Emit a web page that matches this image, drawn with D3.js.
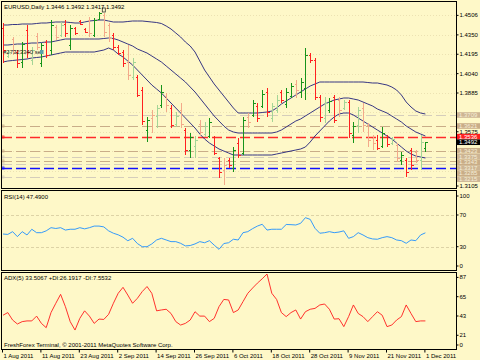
<!DOCTYPE html>
<html>
<head>
<meta charset="utf-8">
<script src="https://cdn.jsdelivr.net/npm/d3@7"></script>
<style>
  body { margin: 0; background: #fef8c8; }
  svg { display: block; }
  text { font-family: "Liberation Sans", Arial, sans-serif; font-size: 6px; }
</style>
</head>
<body>
<div id="chart"></div>
<script>
// ---- data ----
const title = "EURUSD,Daily  1.3446 1.3492 1.3417 1.3492";
const orderLabel = "#27323340 sell";
const rsiTitle = "RSI(14) 47.4900";
const adxTitle = "ADX(5) 33.5067 +DI:26.1917 -DI:7.5532";
const footer = "FreshForex Terminal, \u00a9 2001-2011 MetaQuotes Software Corp.";

const dateLabels = ["1 Aug 2011", "11 Aug 2011", "23 Aug 2011", "2 Sep 2011", "14 Sep 2011", "26 Sep 2011",
  "6 Oct 2011", "18 Oct 2011", "28 Oct 2011", "9 Nov 2011", "21 Nov 2011", "1 Dec 2011"];
const dateLabelBars = [0, 8, 16, 24, 32, 40, 48, 56, 64, 72, 80, 88];

const open = [1.4405, 1.4181, 1.4317, 1.4213, 1.4133, 1.4389, 1.4149, 1.4341, 1.4125, 1.4293,
  1.4229, 1.4413, 1.4349, 1.4437, 1.4269, 1.4405, 1.4461, 1.4397, 1.4469, 1.4349,
  1.4477, 1.4509, 1.4429, 1.4349, 1.4253, 1.4213, 1.4133, 1.4013, 1.4013, 1.3909,
  1.3589, 1.3685, 1.3701, 1.3789, 1.3861, 1.3765, 1.3637, 1.3749, 1.3589, 1.3429,
  1.3461, 1.3637, 1.3557, 1.3541, 1.3533, 1.3365, 1.3269, 1.3349, 1.3285, 1.3485,
  1.3405, 1.3693, 1.3709, 1.3781, 1.3781, 1.3893, 1.3685, 1.3749, 1.3893, 1.3797,
  1.3861, 1.3957, 1.3893, 1.3925, 1.4189, 1.4149, 1.3853, 1.3685, 1.3749, 1.3853,
  1.3829, 1.3765, 1.3813, 1.3549, 1.3629, 1.3765, 1.3629, 1.3525, 1.3509, 1.3461,
  1.3533, 1.3485, 1.3469, 1.3349, 1.3349, 1.3429, 1.3413, 1.3349, 1.3446];
const high = [1.4445, 1.4229, 1.4333, 1.4229, 1.4293, 1.4429, 1.4253, 1.4365, 1.4285, 1.4309,
  1.4469, 1.4429, 1.4453, 1.4469, 1.4429, 1.4413, 1.4469, 1.4405, 1.4493, 1.4485,
  1.4533, 1.4525, 1.4445, 1.4365, 1.4269, 1.4229, 1.4269, 1.4165, 1.4029, 1.3933,
  1.3693, 1.3749, 1.3789, 1.3949, 1.3885, 1.3789, 1.3733, 1.3805, 1.3605, 1.3565,
  1.3541, 1.3669, 1.3653, 1.3685, 1.3541, 1.3373, 1.3365, 1.3365, 1.3453, 1.3525,
  1.3693, 1.3725, 1.3829, 1.3805, 1.3909, 1.3925, 1.3805, 1.3869, 1.3909, 1.3925,
  1.3965, 1.3989, 1.4005, 1.4245, 1.4205, 1.4165, 1.3869, 1.3853, 1.3845, 1.3869,
  1.3853, 1.3829, 1.3829, 1.3653, 1.3773, 1.3805, 1.3645, 1.3549, 1.3549, 1.3613,
  1.3549, 1.3533, 1.3485, 1.3413, 1.3365, 1.3445, 1.3429, 1.3549, 1.3492];
const low = [1.4125, 1.4165, 1.4189, 1.4085, 1.4085, 1.4165, 1.4109, 1.4229, 1.4093, 1.4165,
  1.4189, 1.4309, 1.4333, 1.4333, 1.4229, 1.4349, 1.4429, 1.4365, 1.4333, 1.4333,
  1.4469, 1.4333, 1.4293, 1.4229, 1.4189, 1.4093, 1.3989, 1.3989, 1.3853, 1.3629,
  1.3493, 1.3565, 1.3605, 1.3765, 1.3733, 1.3605, 1.3613, 1.3605, 1.3389, 1.3365,
  1.3365, 1.3549, 1.3533, 1.3525, 1.3389, 1.3205, 1.3149, 1.3285, 1.3253, 1.3365,
  1.3389, 1.3605, 1.3693, 1.3653, 1.3765, 1.3693, 1.3653, 1.3725, 1.3805, 1.3765,
  1.3845, 1.3845, 1.3845, 1.3829, 1.4125, 1.3829, 1.3653, 1.3645, 1.3725, 1.3645,
  1.3693, 1.3749, 1.3525, 1.3485, 1.3565, 1.3573, 1.3453, 1.3429, 1.3429, 1.3445,
  1.3453, 1.3469, 1.3333, 1.3309, 1.3213, 1.3269, 1.3325, 1.3269, 1.3417];
const close = [1.4229, 1.4213, 1.4229, 1.4125, 1.4277, 1.4213, 1.4229, 1.4253, 1.4269, 1.4189,
  1.4429, 1.4333, 1.4429, 1.4365, 1.4405, 1.4365, 1.4437, 1.4373, 1.4365, 1.4469,
  1.4525, 1.4373, 1.4325, 1.4253, 1.4205, 1.4125, 1.4029, 1.4133, 1.3869, 1.3661,
  1.3669, 1.3709, 1.3765, 1.3893, 1.3789, 1.3629, 1.3701, 1.3637, 1.3429, 1.3533,
  1.3509, 1.3573, 1.3621, 1.3653, 1.3405, 1.3253, 1.3309, 1.3309, 1.3429, 1.3389,
  1.3669, 1.3653, 1.3805, 1.3685, 1.3877, 1.3733, 1.3781, 1.3829, 1.3829, 1.3893,
  1.3941, 1.3909, 1.3973, 1.4189, 1.4149, 1.3853, 1.3693, 1.3805, 1.3821, 1.3669,
  1.3749, 1.3813, 1.3565, 1.3621, 1.3749, 1.3629, 1.3509, 1.3485, 1.3445, 1.3565,
  1.3477, 1.3517, 1.3365, 1.3389, 1.3253, 1.3309, 1.3349, 1.3493, 1.3492];
// G = up, R = down, g = soft up, r = soft down
const barKind = ("RgrRGRgrGR" + "GrgRGRRRrG" + "GrrRRRrgRR" + "GrgGrRgrRG" + "grgGRRrRGR" +
  "GrGRGRggRG" + "GrGGRRRgGR" + "rgRGgrrrRG" + "RgrGRRrgG").split("");

const bandUpper = [1.4429, 1.4429, 1.4433, 1.4433, 1.4437, 1.4437, 1.4437, 1.4441, 1.4445, 1.4445,
  1.4449, 1.4453, 1.4453, 1.4453, 1.4449, 1.4445, 1.4445, 1.4453, 1.4461, 1.4465,
  1.4469, 1.4469, 1.4461, 1.4453, 1.4453, 1.4453, 1.4457, 1.4461, 1.4461, 1.4461,
  1.4457, 1.4453, 1.4449, 1.4441, 1.4421, 1.4397, 1.4365, 1.4333, 1.4293, 1.4261,
  1.4213, 1.4141, 1.4069, 1.4013, 1.3957, 1.3909, 1.3861, 1.3813, 1.3765, 1.3725,
  1.3725, 1.3725, 1.3725, 1.3725, 1.3729, 1.3733, 1.3741, 1.3765, 1.3797, 1.3821,
  1.3845, 1.3869, 1.3893, 1.3917, 1.3941, 1.3957, 1.3973, 1.3973, 1.3973, 1.3973,
  1.3973, 1.3973, 1.3973, 1.3973, 1.3973, 1.3973, 1.3969, 1.3965, 1.3965, 1.3957,
  1.3949, 1.3933, 1.3909, 1.3869, 1.3813, 1.3773, 1.3741, 1.3725, 1.3717];
const bandMiddle = [1.4269, 1.4269, 1.4273, 1.4277, 1.4277, 1.4281, 1.4285, 1.4285, 1.4289, 1.4293,
  1.4293, 1.4301, 1.4309, 1.4317, 1.4317, 1.4317, 1.4317, 1.4317, 1.4317, 1.4317,
  1.4317, 1.4321, 1.4325, 1.4321, 1.4309, 1.4293, 1.4277, 1.4261, 1.4237, 1.4221,
  1.4205, 1.4181, 1.4157, 1.4133, 1.4101, 1.4069, 1.4037, 1.4005, 1.3973, 1.3933,
  1.3893, 1.3845, 1.3797, 1.3749, 1.3701, 1.3661, 1.3621, 1.3589, 1.3573, 1.3565,
  1.3565, 1.3565, 1.3565, 1.3565, 1.3565, 1.3565, 1.3565, 1.3573, 1.3589, 1.3613,
  1.3637, 1.3661, 1.3677, 1.3701, 1.3725, 1.3749, 1.3773, 1.3797, 1.3813, 1.3829,
  1.3837, 1.3845, 1.3845, 1.3837, 1.3829, 1.3813, 1.3797, 1.3781, 1.3757, 1.3741,
  1.3725, 1.3701, 1.3677, 1.3653, 1.3621, 1.3597, 1.3573, 1.3557, 1.3541];
const bandLower = [1.4133, 1.4141, 1.4145, 1.4149, 1.4153, 1.4157, 1.4165, 1.4169, 1.4173, 1.4181,
  1.4189, 1.4197, 1.4205, 1.4213, 1.4213, 1.4213, 1.4213, 1.4213, 1.4213, 1.4213,
  1.4221, 1.4229, 1.4245, 1.4229, 1.4197, 1.4173, 1.4141, 1.4109, 1.4069, 1.4029,
  1.3989, 1.3949, 1.3917, 1.3885, 1.3845, 1.3805, 1.3765, 1.3725, 1.3685, 1.3645,
  1.3605, 1.3557, 1.3517, 1.3485, 1.3461, 1.3437, 1.3421, 1.3405, 1.3389, 1.3389,
  1.3389, 1.3389, 1.3389, 1.3389, 1.3389, 1.3389, 1.3389, 1.3397, 1.3405, 1.3413,
  1.3421, 1.3429, 1.3437, 1.3453, 1.3493, 1.3541, 1.3581, 1.3621, 1.3661, 1.3693,
  1.3717, 1.3725, 1.3725, 1.3709, 1.3685, 1.3661, 1.3637, 1.3613, 1.3589, 1.3565,
  1.3541, 1.3517, 1.3485, 1.3453, 1.3421, 1.3397, 1.3381, 1.3373, 1.3365];

const rsi = [46, 45.5, 49, 42.7, 49, 44.8, 52, 47.7, 47.7, 50,
  54, 53, 54, 51, 52, 52, 54, 52.5, 54, 56,
  56, 55, 50, 47, 45, 42, 37.5, 40.6, 34, 30,
  30, 33.5, 38.5, 40.6, 38.5, 36.4, 36.4, 34.3, 31, 31.5,
  33.5, 36.4, 35, 37.6, 32, 26.7, 34, 35, 39.4, 38.5,
  47.7, 49, 52.8, 56, 58.3, 51, 52, 52, 52, 58,
  57.8, 57.4, 59.5, 66.6, 64.5, 53.2, 47, 47.7, 49, 47.7,
  48.5, 50, 40.6, 42.7, 47.7, 44.8, 41.4, 39.8, 39.4, 41.4,
  42.7, 41.4, 38.5, 37.6, 34.3, 38.5, 37.6, 44.8, 47.49];
const adx = [40, 43, 34.5, 30, 32.7, 33.5, 33.5, 39, 30.7, 25.8,
  43, 53.6, 63.8, 49.8, 32.7, 23.1, 36.4, 45, 39, 30.7,
  35.6, 35.2, 41, 53.6, 65, 71.8, 63, 53.6, 59.3, 66.9,
  72.7, 65, 45, 46, 46.8, 42, 32.7, 28.8, 30.7, 34.5,
  44, 39, 39, 32.7, 36.4, 49.8, 58, 57.4, 43, 46,
  55.5, 65, 71, 76.6, 81.5, 87, 65, 58, 43, 38.4,
  43, 46, 35.6, 44, 46.8, 47.8, 51.7, 52.8, 46.8, 35.6,
  36, 27, 38.4, 51.7, 42, 38.4, 32.7, 38.4, 44, 40,
  27, 28.8, 34.5, 38.4, 51.7, 42, 32.7, 33.5, 33.51];

const priceTicks = [1.4506, 1.4350, 1.4195, 1.4040, 1.3885, 1.3730, 1.3575, 1.3420, 1.3265, 1.3105];
const rsiTicks = [100, 70, 30, 0];
const rsiLevels = [70, 30];
const adxTicks = [87, 65, 43, 21, 0];

// horizontal lines drawn on the chart
const levelPrices = [1.3709, 1.3621, 1.3536, 1.3423, 1.3375, 1.3343, 1.3317, 1.3285, 1.3215];
const levelKinds = ["pale", "tan", "red", "tan", "pale", "tan", "pale", "blue", "pale"];
const lastPrice = 1.3492;

// ---- layout ----
const width = 480, height = 360;
const left = 1, right = 456;
const mainTop = 1, mainBottom = 188;
const rsiTop = 190, rsiBottom = 270;
const adxTop = 272, adxBottom = 349;

const x = d3.scaleLinear().domain([0, 88]).range([3, 425.4]);
const y = d3.scaleLinear().domain([1.3117, 1.4629]).range([189, 0]);
const yRsi = d3.scaleLinear().domain([0, 100]).range([270.5, 191.2]);
const yAdx = d3.scaleLinear().domain([0, 87]).range([350.3, 274]);

const barColor = d3.scaleOrdinal().domain(["G", "R", "g", "r"])
  .range(["#16941a", "#ff2020", "#a4d596", "#f3a98a"]);
const levelColor = d3.scaleOrdinal().domain(["pale", "tan", "red", "blue"])
  .range(["#d5cdbb", "#c9ad88", "#ff2a2a", "#1010ff"]);
const boxColor = d3.scaleOrdinal().domain(["pale", "tan", "red", "blue", "last"])
  .range(["#cdb594", "#c9ad88", "#ff2020", "#c9ad88", "#000"]);

const px = v => Math.round(v) + 0.5;
const fmt = d3.format(".4f");

const svg = d3.select("#chart").append("svg")
  .attr("width", width)
  .attr("height", height)
  .attr("viewBox", [0, 0, width, height]);

svg.append("rect").attr("width", width).attr("height", height).attr("fill", "#fef8c8");

// clip regions for the three windows
const defs = svg.append("defs");
[["clipMain", mainTop, mainBottom], ["clipRsi", rsiTop, rsiBottom], ["clipAdx", adxTop, adxBottom]]
  .forEach(([id, t, b]) => {
    defs.append("clipPath").attr("id", id)
      .append("rect").attr("x", left).attr("y", t).attr("width", right - left).attr("height", b - t);
  });

// faint price grid
const main = svg.append("g").attr("clip-path", "url(#clipMain)");
main.selectAll(".grid")
  .data(priceTicks)
  .join("line")
  .attr("x1", left).attr("x2", right)
  .attr("y1", d => px(y(d))).attr("y2", d => px(y(d)))
  .attr("stroke", "#ece2b2")
  .attr("stroke-dasharray", "1,2");

// horizontal level lines
main.selectAll(".level")
  .data(levelPrices)
  .join("line")
  .attr("x1", 2).attr("x2", right)
  .attr("y1", d => px(y(d))).attr("y2", d => px(y(d)))
  .attr("stroke", (d, i) => levelColor(levelKinds[i]))
  .attr("stroke-width", (d, i) => levelKinds[i] == "red" || levelKinds[i] == "blue" ? 1.4 : 1.2)
  .attr("stroke-dasharray", "10,4");
main.selectAll(".levelMark")
  .data(levelPrices)
  .join("rect")
  .attr("x", 2).attr("y", d => Math.round(y(d)) - 1)
  .attr("width", 2).attr("height", 2)
  .attr("fill", "none")
  .attr("stroke", (d, i) => levelColor(levelKinds[i]))
  .attr("stroke-width", 0.8);

// envelope lines
const bandLine = d3.line().x((d, i) => x(i)).y(d => y(d));
[bandUpper, bandMiddle, bandLower].forEach(band => {
  main.append("path")
    .datum(band)
    .attr("d", bandLine)
    .attr("fill", "none")
    .attr("stroke", "#20207a")
    .attr("stroke-width", 0.9);
});

// OHLC bars
const bars = main.selectAll(".bar")
  .data(open.map((o, i) => ({ i, o, h: high[i], l: low[i], c: close[i], k: barKind[i] })))
  .join("g")
  .attr("stroke", d => barColor(d.k))
  .attr("shape-rendering", "crispEdges");
bars.append("line")
  .attr("x1", d => px(x(d.i))).attr("x2", d => px(x(d.i)))
  .attr("y1", d => y(d.h)).attr("y2", d => y(d.l));
bars.append("line")
  .attr("x1", d => px(x(d.i)) - 2).attr("x2", d => px(x(d.i)))
  .attr("y1", d => px(y(d.o))).attr("y2", d => px(y(d.o)));
bars.append("line")
  .attr("x1", d => px(x(d.i))).attr("x2", d => px(x(d.i)) + 2)
  .attr("y1", d => px(y(d.c))).attr("y2", d => px(y(d.c)));

// small marker near the August top
main.append("rect")
  .attr("x", x(21) - 1.5).attr("y", y(1.4533) - 4)
  .attr("width", 3).attr("height", 4)
  .attr("fill", "none").attr("stroke", "#333").attr("stroke-width", 0.8);

main.append("text").attr("x", 4).attr("y", 9).attr("fill", "#000").text(title);

// open order tag on the left
const order = main.append("g").attr("transform", `translate(3,${y(1.4213)})`);
order.append("text").attr("x", 0).attr("y", 2).attr("fill", "#222").attr("font-size", 5.5).text(orderLabel);
order.append("rect").attr("x", 37).attr("y", -2).attr("width", 3).attr("height", 4).attr("fill", "#5aa0a8");

// RSI window
const rsiG = svg.append("g").attr("clip-path", "url(#clipRsi)");
rsiG.selectAll(".lvl")
  .data(rsiLevels)
  .join("line")
  .attr("x1", left).attr("x2", right)
  .attr("y1", d => px(yRsi(d))).attr("y2", d => px(yRsi(d)))
  .attr("stroke", "#ddd3a6")
  .attr("stroke-dasharray", "3,2");
rsiG.append("path")
  .datum(rsi)
  .attr("d", d3.line().x((d, i) => x(i)).y(d => yRsi(d)))
  .attr("fill", "none")
  .attr("stroke", "#1e90ff")
  .attr("stroke-width", 0.9);
rsiG.append("text").attr("x", 4).attr("y", 199).attr("fill", "#000").text(rsiTitle);

// ADX window
const adxG = svg.append("g").attr("clip-path", "url(#clipAdx)");
adxG.append("path")
  .datum(adx)
  .attr("d", d3.line().x((d, i) => x(i)).y(d => yAdx(d)))
  .attr("fill", "none")
  .attr("stroke", "#ff1c1c")
  .attr("stroke-width", 0.9);
adxG.append("text").attr("x", 4).attr("y", 280).attr("fill", "#000").text(adxTitle);
adxG.append("text").attr("x", 4).attr("y", 346.5).attr("fill", "#000").text(footer);

// window frames
[[mainTop, mainBottom], [rsiTop, rsiBottom], [adxTop, adxBottom]].forEach(([t, b]) => {
  svg.append("rect")
    .attr("x", left + 0.5).attr("y", t + 0.5)
    .attr("width", right - left).attr("height", b - t)
    .attr("fill", "none").attr("stroke", "#000").attr("stroke-width", 1)
    .attr("shape-rendering", "crispEdges");
});

// price tags on the right: level lines and the last price, stacked so they don't collide
const tags = levelPrices.map((p, i) => ({ p, k: levelKinds[i] }))
  .concat([{ p: lastPrice, k: "last" }])
  .sort((a, b) => b.p - a.p);
let prevY = -Infinity;
tags.forEach(t => {
  t.y = Math.max(y(t.p), prevY + 5.6);
  prevY = t.y;
});

// right price axis (labels hidden under a tag are left out)
const clampMain = v => Math.max(mainTop + 5, Math.min(mainBottom - 2, v));
const shownTicks = priceTicks.filter(p => !tags.some(t => Math.abs(t.y - y(p)) < 4.5));
const priceAxis = svg.append("g")
  .attr("transform", `translate(${right + 0.5},0)`)
  .call(d3.axisRight(y).tickValues(shownTicks).tickFormat(fmt).tickSize(2).tickPadding(1));
priceAxis.select(".domain").remove();
priceAxis.selectAll(".tick").attr("transform", d => `translate(0,${clampMain(y(d))})`);

const tagG = svg.selectAll(".tag")
  .data(tags)
  .join("g")
  .attr("transform", d => `translate(457,${d.y})`);
tagG.append("rect")
  .attr("x", 0).attr("y", -2.8).attr("width", 23).attr("height", 5.6)
  .attr("fill", d => boxColor(d.k));
tagG.append("text")
  .attr("x", 2).attr("y", 1.9)
  .attr("font-size", 5.4)
  .attr("fill", d => d.k == "pale" || d.k == "tan" || d.k == "blue" ? "#f6eed8" : "#fff")
  .text(d => fmt(d.p));

// RSI and ADX scales
const rsiAxis = svg.append("g")
  .attr("transform", `translate(${right + 0.5},0)`)
  .call(d3.axisRight(yRsi).tickValues(rsiTicks).tickSize(2).tickPadding(1));
rsiAxis.select(".domain").remove();
rsiAxis.selectAll(".tick").attr("transform", d => `translate(0,${Math.max(rsiTop + 6, Math.min(rsiBottom - 4, yRsi(d)))})`);

const adxAxis = svg.append("g")
  .attr("transform", `translate(${right + 0.5},0)`)
  .call(d3.axisRight(yAdx).tickValues(adxTicks).tickSize(2).tickPadding(1));
adxAxis.select(".domain").remove();
adxAxis.selectAll(".tick").attr("transform", d => `translate(0,${Math.max(adxTop + 4, Math.min(adxBottom - 4, yAdx(d) + 3.4))})`);

[priceAxis, rsiAxis, adxAxis].forEach(a => {
  a.selectAll("text").attr("font-size", 6).attr("font-family", "Liberation Sans, Arial, sans-serif").attr("fill", "#000");
  a.selectAll("line").attr("stroke", "#000");
});

// time axis
const timeAxis = svg.append("g")
  .attr("transform", `translate(0,${adxBottom + 0.5})`)
  .call(d3.axisBottom(x).tickValues(dateLabelBars).tickFormat((d, k) => dateLabels[k]).tickSize(3).tickPadding(1));
timeAxis.select(".domain").remove();
timeAxis.selectAll("line").attr("stroke", "#000").attr("transform", "translate(-1,0)");
timeAxis.selectAll("text")
  .attr("text-anchor", "start")
  .attr("dx", 0)
  .attr("font-size", 6).attr("font-family", "Liberation Sans, Arial, sans-serif").attr("fill", "#000");
</script>
</body>
</html>
